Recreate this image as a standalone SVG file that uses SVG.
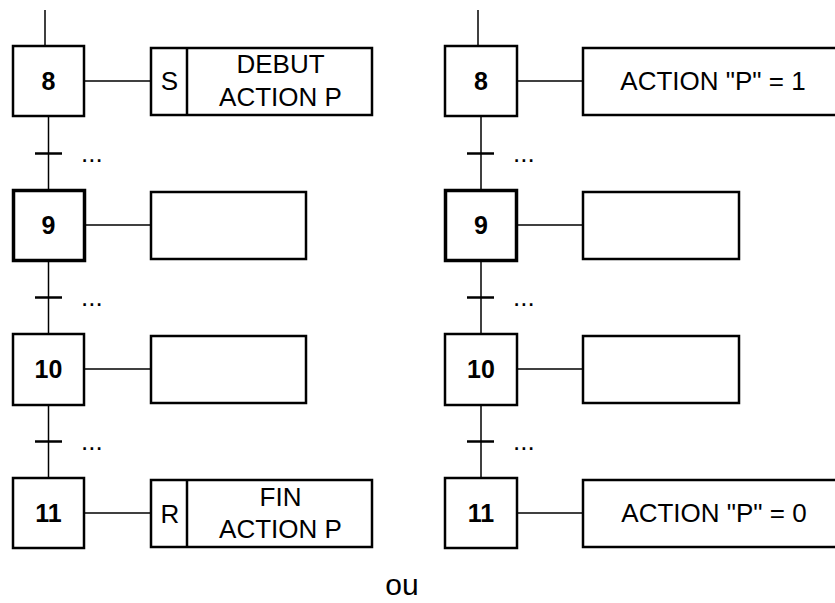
<svg xmlns="http://www.w3.org/2000/svg" width="835" height="603" viewBox="0 0 835 603">
<style>
.box{fill:#fff;stroke:#000;stroke-width:2.5}
.active{fill:#fff;stroke:#000;stroke-width:3.5}
.ln{stroke:#000;stroke-width:1.5;fill:none}
.bar{stroke:#000;stroke-width:2.5}
.num{font-family:"Liberation Sans",Arial,sans-serif;font-weight:bold;font-size:25px;text-anchor:middle}
.txt{font-family:"Liberation Sans",Arial,sans-serif;font-size:26px;text-anchor:middle}
.dots{font-family:"Liberation Sans",Arial,sans-serif;font-size:26px}
</style>
<rect width="835" height="603" fill="#fff"/>
<g id="connectors">
<line class="ln" x1="45" y1="10" x2="45" y2="46"/>
<line class="ln" x1="48.5" y1="117" x2="48.5" y2="189"/>
<line class="ln" x1="48.5" y1="262" x2="48.5" y2="333"/>
<line class="ln" x1="48.5" y1="406" x2="48.5" y2="477"/>
<line class="bar" x1="35" y1="153.5" x2="62" y2="153.5"/>
<line class="bar" x1="35" y1="297.5" x2="62" y2="297.5"/>
<line class="bar" x1="35" y1="441.5" x2="62" y2="441.5"/>
<line class="ln" x1="85" y1="81" x2="150" y2="81"/>
<line class="ln" x1="85" y1="225" x2="150" y2="225"/>
<line class="ln" x1="85" y1="369" x2="150" y2="369"/>
<line class="ln" x1="85" y1="513" x2="150" y2="513"/>
<line class="ln" x1="478" y1="10" x2="478" y2="46"/>
<line class="ln" x1="481" y1="117" x2="481" y2="189"/>
<line class="ln" x1="481" y1="262" x2="481" y2="333"/>
<line class="ln" x1="481" y1="406" x2="481" y2="477"/>
<line class="bar" x1="467" y1="153.5" x2="494" y2="153.5"/>
<line class="bar" x1="467" y1="297.5" x2="494" y2="297.5"/>
<line class="bar" x1="467" y1="441.5" x2="494" y2="441.5"/>
<line class="ln" x1="518" y1="81" x2="582" y2="81"/>
<line class="ln" x1="518" y1="225" x2="582" y2="225"/>
<line class="ln" x1="518" y1="369" x2="582" y2="369"/>
<line class="ln" x1="518" y1="513" x2="582" y2="513"/>
</g>
<g id="transitions-labels">
<text class="dots" x="81" y="162">...</text>
<text class="dots" x="81" y="306">...</text>
<text class="dots" x="81" y="450">...</text>
<text class="dots" x="513" y="162">...</text>
<text class="dots" x="513" y="306">...</text>
<text class="dots" x="513" y="450">...</text>
</g>
<g id="step8-left"><rect class="box" x="13" y="46" width="71" height="70"/><text class="num" x="48.5" y="90">8</text></g>
<g id="step9-left"><rect class="active" x="13.5" y="190.5" width="71" height="70"/><text class="num" x="48.5" y="234">9</text></g>
<g id="step10-left"><rect class="box" x="13" y="334" width="71" height="71"/><text class="num" x="48.5" y="378">10</text></g>
<g id="step11-left"><rect class="box" x="13" y="478" width="71" height="70"/><text class="num" x="48.5" y="522">11</text></g>
<g id="action8-left"><rect class="box" x="151" y="48" width="221" height="67"/><line class="box" x1="187" y1="48" x2="187" y2="115"/><text class="txt" x="169.5" y="90">S</text><text class="txt" x="280.5" y="73">DEBUT</text><text class="txt" x="280.5" y="106">ACTION P</text></g>
<g id="action9-left"><rect class="box" x="151" y="192" width="155" height="67"/></g>
<g id="action10-left"><rect class="box" x="151" y="336" width="155" height="67"/></g>
<g id="action11-left"><rect class="box" x="151" y="480" width="221" height="67"/><line class="box" x1="187" y1="480" x2="187" y2="547"/><text class="txt" x="170" y="523">R</text><text class="txt" x="280.5" y="506">FIN</text><text class="txt" x="280.5" y="538">ACTION P</text></g>
<g id="step8-right"><rect class="box" x="445" y="46" width="72" height="70"/><text class="num" x="481" y="90">8</text></g>
<g id="step9-right"><rect class="active" x="445.5" y="190.5" width="71" height="70"/><text class="num" x="481" y="234">9</text></g>
<g id="step10-right"><rect class="box" x="445" y="334" width="72" height="71"/><text class="num" x="481" y="378">10</text></g>
<g id="step11-right"><rect class="box" x="445" y="478" width="72" height="70"/><text class="num" x="481" y="522">11</text></g>
<g id="action8-right"><rect class="box" x="583" y="48" width="262" height="67"/><text class="txt" x="713" y="90">ACTION "P" = 1</text></g>
<g id="action9-right"><rect class="box" x="583" y="192" width="156" height="67"/></g>
<g id="action10-right"><rect class="box" x="583" y="336" width="156" height="67"/></g>
<g id="action11-right"><rect class="box" x="583" y="480" width="262" height="67"/><text class="txt" x="714" y="522">ACTION "P" = 0</text></g>
<text id="ou" x="402" y="595" font-family="'Liberation Sans',Arial,sans-serif" font-size="30" text-anchor="middle">ou</text>
</svg>
